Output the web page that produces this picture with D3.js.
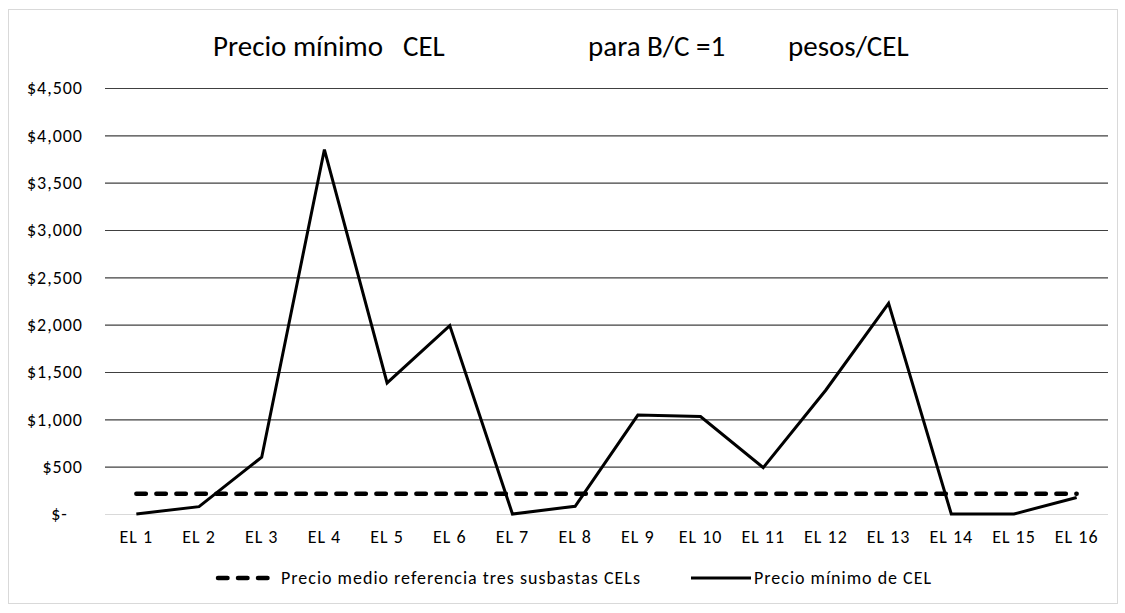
<!DOCTYPE html>
<html>
<head>
<meta charset="utf-8">
<script src="https://cdn.jsdelivr.net/npm/d3@7"></script>
<style>
  body { margin: 0; background: #fff; }
  svg text { font-family: Carlito, Lato, "Liberation Sans Narrow", sans-serif; fill: #000; }
</style>
</head>
<body>
<svg id="chart" width="1125" height="613"></svg>
<script>
// Chart data
var categories = ["EL 1", "EL 2", "EL 3", "EL 4", "EL 5", "EL 6", "EL 7", "EL 8",
    "EL 9", "EL 10", "EL 11", "EL 12", "EL 13", "EL 14", "EL 15", "EL 16"];
var precioMinimo = [0, 78, 600, 3850, 1385, 1990, 0, 82, 1045, 1030, 490, 1310, 2225, 0, 0, 175];
var precioMedio = [215, 215, 215, 215, 215, 215, 215, 215, 215, 215, 215, 215, 215, 215, 215, 215];
var yTicks = [0, 500, 1000, 1500, 2000, 2500, 3000, 3500, 4000, 4500];
var legendLabels = ["Precio medio referencia tres susbastas CELs", "Precio mínimo de CEL"];

// Layout
var plotLeft = 105, plotRight = 1108, plotTop = 88, plotBottom = 514;
var dashPattern = "9.5,10.5";

var svg = d3.select("#chart");

// outer chart border
svg.append("rect")
    .attr("x", 8.5).attr("y", 9.5)
    .attr("width", 1109).attr("height", 594)
    .attr("fill", "none")
    .attr("stroke", "#d9d9d9");

var x = d3.scaleBand()
    .domain(categories)
    .range([plotLeft, plotRight]);

var y = d3.scaleLinear()
    .domain([0, 4500])
    .range([plotBottom, plotTop]);

function cx(d) { return x(d) + x.bandwidth() / 2; }

// Title (pieces spaced like the original)
var title = svg.append("g").attr("font-size", "29px").attr("font-weight", 300);
function titlePiece(txt, x0) {
    title.append("text")
        .attr("x", x0).attr("y", 56)
        .text(txt);
}
titlePiece("Precio mínimo", 213);
titlePiece("CEL", 403);
titlePiece("para B/C =1", 588);
titlePiece("pesos/CEL", 788);

// Gridlines + y labels
var yAxis = d3.axisLeft(y)
    .tickValues(yTicks)
    .tickSize(-(plotRight - plotLeft))
    .tickPadding(22)
    .tickFormat(function (d) { return d === 0 ? "$-\u00a0\u00a0\u00a0" : "$" + d3.format(",")(d); });

var gy = svg.append("g")
    .attr("transform", "translate(" + plotLeft + ",0)")
    .call(yAxis);
gy.select(".domain").remove();
gy.selectAll(".tick line")
    .attr("stroke", function (d) { return d === 0 ? "#d9d9d9" : "#404040"; })
    .attr("stroke-width", 1.2);
gy.selectAll(".tick text")
    .attr("font-size", "18px")
    .attr("letter-spacing", "1px")
    .attr("font-family", null)
    .attr("fill", "#000");

// x labels
var xAxis = d3.axisBottom(x).tickSize(0).tickPadding(16);
var gx = svg.append("g")
    .attr("transform", "translate(0," + plotBottom + ")")
    .call(xAxis);
gx.select(".domain").remove();
gx.selectAll(".tick text")
    .attr("font-size", "18px")
    .attr("letter-spacing", "1px")
    .attr("font-family", null)
    .attr("fill", "#000");

// Lines
var line = d3.line()
    .x(function (d, i) { return cx(categories[i]); })
    .y(function (d) { return y(d); });

svg.append("path")
    .datum(precioMedio)
    .attr("d", line)
    .attr("fill", "none")
    .attr("stroke", "#000")
    .attr("stroke-width", 4.5)
    .attr("stroke-linecap", "round")
    .attr("stroke-dasharray", dashPattern);

svg.append("path")
    .datum(precioMinimo)
    .attr("d", line)
    .attr("fill", "none")
    .attr("stroke", "#000")
    .attr("stroke-width", 3)
    .attr("stroke-linejoin", "miter");

// Legend
var legendY = 578;
var legend = svg.append("g").attr("font-size", "18px").attr("letter-spacing", "1px");
legend.append("line")
    .attr("x1", 218).attr("x2", 272)
    .attr("y1", legendY).attr("y2", legendY)
    .attr("stroke", "#000").attr("stroke-width", 4.5)
    .attr("stroke-linecap", "round")
    .attr("stroke-dasharray", dashPattern);
legend.append("text")
    .attr("x", 281).attr("y", legendY).attr("dy", "0.35em")
    .text(legendLabels[0]);
legend.append("line")
    .attr("x1", 691).attr("x2", 751)
    .attr("y1", legendY).attr("y2", legendY)
    .attr("stroke", "#000").attr("stroke-width", 3);
legend.append("text")
    .attr("x", 754).attr("y", legendY).attr("dy", "0.35em")
    .text(legendLabels[1]);
</script>
</body>
</html>
